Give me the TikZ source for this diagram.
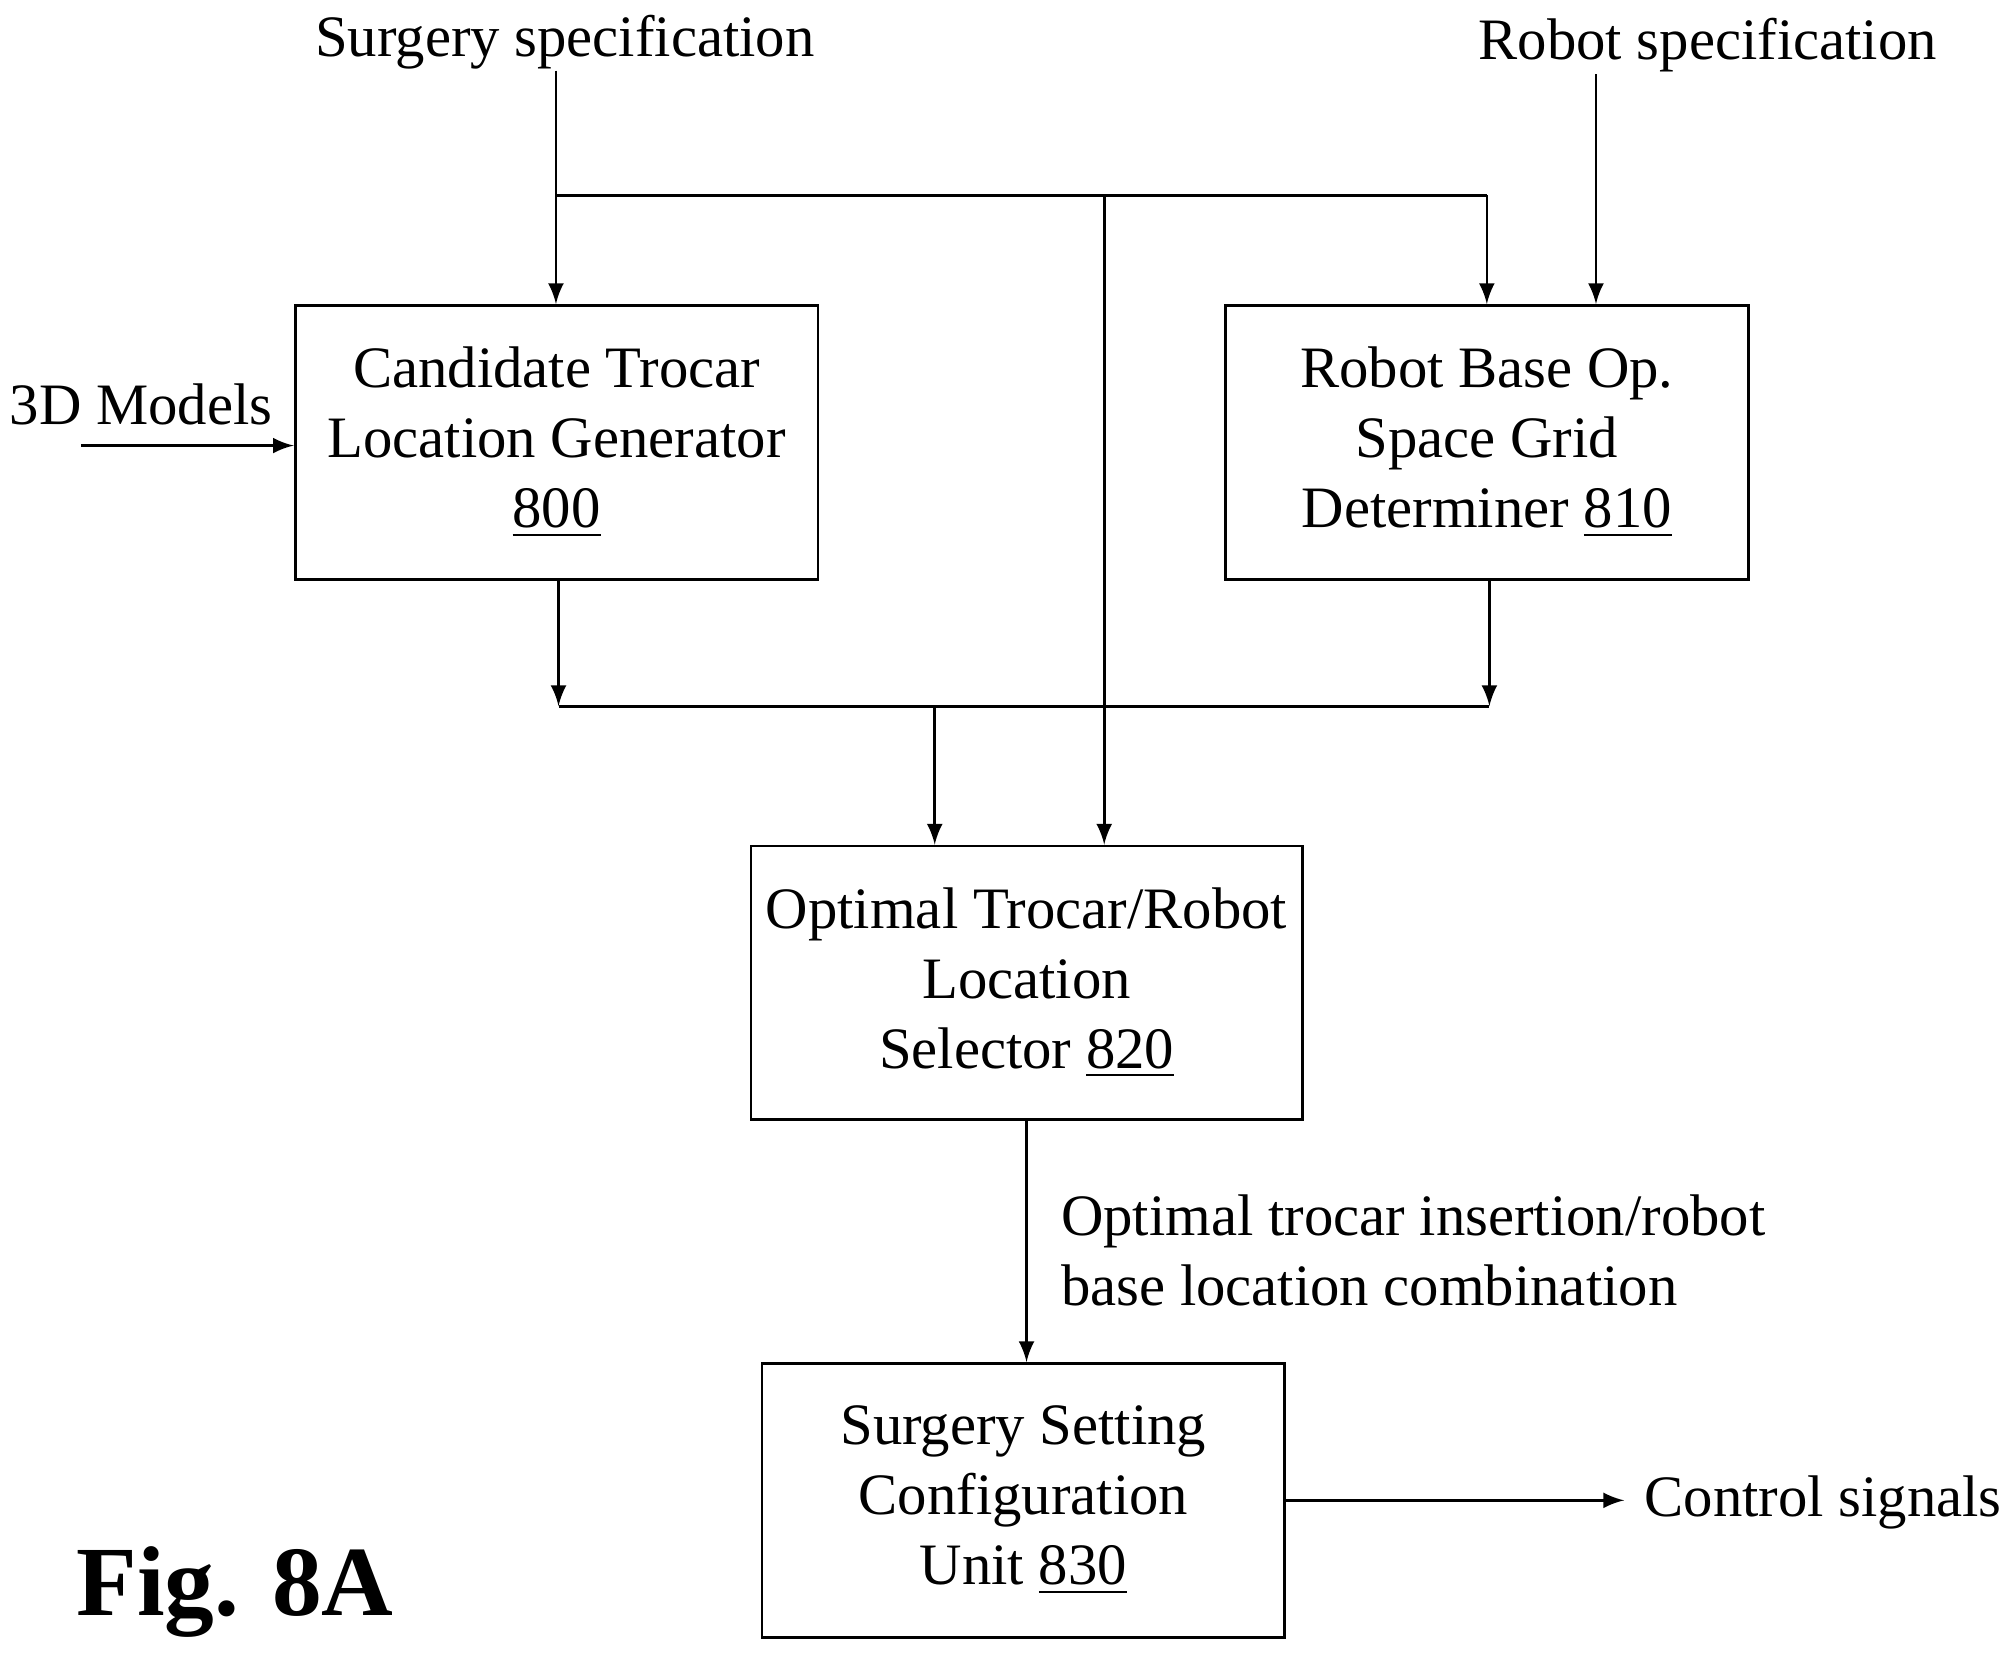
\documentclass[tikz,border=0pt]{standalone}
\usepackage{fontspec}
\setmainfont{Liberation Serif}
\usetikzlibrary{positioning}
\tikzset{
  blk/.style={draw,line width=0.6pt,minimum width=4.07cm,minimum height=2.13cm,align=center,
    font=\fontsize{13}{15.5}\selectfont},
  lbl/.style={font=\fontsize{13}{15.5}\selectfont,align=left},
  arr/.style={-latex,line width=0.6pt},
  ln/.style={line width=0.6pt}
}
\begin{document}
\begin{tikzpicture}[x=0.01cm,y=-0.01cm]
\useasboundingbox (0,0) rectangle (1560,1290);

% blocks
\node[blk] (gen) at (433.5,344.5) {Candidate Trocar\\Location Generator\\\underline{800}};
\node[blk] (grid) at (1158,344.5) {Robot Base Op.\\Space Grid\\Determiner \underline{810}};
\node[blk] (sel) at (799.5,765.5) {Optimal Trocar/Robot\\Location\\Selector \underline{820}};
\node[blk] (cfg) at (797,1168.5) {Surgery Setting\\Configuration\\Unit \underline{830}};

% inputs and outputs
\node[lbl] (surg) at (440,33) {Surgery specification};
\node[lbl] (robo) at (1330,35) {Robot specification};
\node[lbl] (mod) at (110,315) {3D Models};
\node[lbl] (ctl) at (1420,1170) {Control signals};
\node[lbl,anchor=north west] (comb) at (814,918) {Optimal trocar insertion/robot\\base location combination};
\node[font=\bfseries\fontsize{22}{26}\selectfont] (fig) at (183,1240) {Fig. 8A};

\coordinate (s0) at (433,55);
\coordinate (s1) at (433,152);
\coordinate (s2) at (860,152);
\coordinate (s3) at (1158,152);
\coordinate (r0) at (1243,58);
\coordinate (m0) at (63,347);
\coordinate (j1) at (435,550);
\coordinate (j2) at (1160,550);
\coordinate (j3) at (728,550);

\draw[arr] (s0) -- (gen.north -| s0);
\draw[ln] (s1) -- (s3);
\draw[arr] (s3) -- (grid.north -| s3);
\draw[arr] (s2) -- (sel.north -| s2);
\draw[arr] (r0) -- (grid.north -| r0);
\draw[arr] (m0) -- (gen.west |- m0);
\draw[arr] (gen.south -| j1) -- (j1);
\draw[arr] (grid.south -| j2) -- (j2);
\draw[ln] (j1) -- (j2);
\draw[arr] (j3) -- (sel.north -| j3);
\draw[arr] (sel.south) -- (cfg.north -| sel.south);
\draw[arr] (cfg.east) -- (1265,1168.5);
\end{tikzpicture}
\end{document}
